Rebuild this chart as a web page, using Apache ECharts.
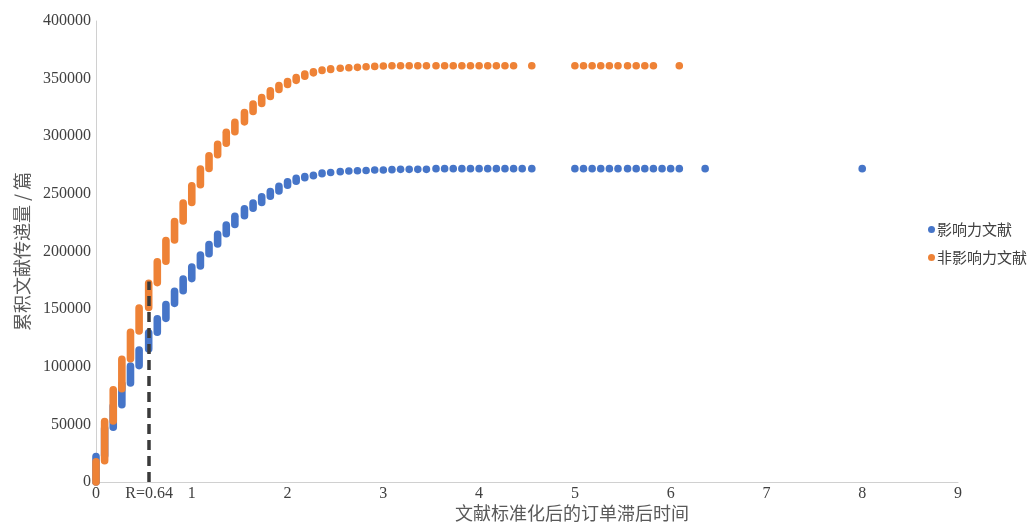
<!DOCTYPE html>
<html>
<head>
<meta charset="utf-8">
<script src="https://cdn.jsdelivr.net/npm/echarts@6/dist/echarts.min.js"></script>
<style>
html,body{margin:0;padding:0;background:#fff;}
#main{width:1030px;height:525px;}
</style>
</head>
<body>
<div id="main"></div>
<script>
// ---- data ----
const seriesNames = ['影响力文献', '非影响力文献'];
const xAxisName = '文献标准化后的订单滞后时间';
const yAxisName = '累积文献传递量 / 篇';
const markX = 0.555;
const markTop = 174000;
const markLabel = 'R=0.64';

// 影响力文献 (blue): x, lowest and highest cumulative value at that x
const blueX = [0,0.09,0.18,0.27,0.36,0.45,0.55,0.64,0.73,0.82,0.91,1.00,1.09,1.18,1.27,1.36,1.45,1.55,1.64,1.73,1.82,1.91,2.00,2.09,2.18,2.27,2.36,2.45,2.55,2.64,2.73,2.82,2.91,3.00,3.09,3.18,3.27,3.36,3.45,3.55,3.64,3.73,3.82,3.91,4.00,4.09,4.18,4.27,4.36,4.45,4.55,5.00,5.09,5.18,5.27,5.36,5.45,5.55,5.64,5.73,5.82,5.91,6.00,6.09,6.36,8.00];
const blueLow = [0,23000,47500,67000,86000,101000,115500,130000,142000,155000,166000,176500,187500,198000,206500,215500,223500,231000,237500,242500,248000,252500,257500,261000,264000,265800,267500,268500,269300,269800,270100,270300,270700,270700,271000,271300,271300,271300,271300,271900,271900,271900,271900,271900,271900,271900,271900,271900,271900,271900,271900,271900,271900,271900,271900,271900,271900,271900,271900,271900,271900,271900,271900,271900,271900,271900];
const blueHigh = [22000,46500,66000,85000,100500,114500,129500,141500,154000,165500,176000,186500,197000,206000,215000,223000,230500,237000,242000,247500,252000,256500,260500,263500,265000,266200,268000,268500,269300,269800,270100,270300,270700,270700,271000,271300,271300,271300,271300,271900,271900,271900,271900,271900,271900,271900,271900,271900,271900,271900,271900,271900,271900,271900,271900,271900,271900,271900,271900,271900,271900,271900,271900,271900,271900,271900];

// 非影响力文献 (orange)
const orangeX = [0,0.09,0.18,0.27,0.36,0.45,0.55,0.64,0.73,0.82,0.91,1.00,1.09,1.18,1.27,1.36,1.45,1.55,1.64,1.73,1.82,1.91,2.00,2.09,2.18,2.27,2.36,2.45,2.55,2.64,2.73,2.82,2.91,3.00,3.09,3.18,3.27,3.36,3.45,3.55,3.64,3.73,3.82,3.91,4.00,4.09,4.18,4.27,4.36,4.55,5.00,5.09,5.18,5.27,5.36,5.45,5.55,5.64,5.73,5.82,6.09];
const orangeLow = [0,18500,53000,81000,107000,131000,151500,173000,191500,210000,226500,242500,258000,272000,284000,294000,304000,312500,321500,328500,334500,340500,345000,348500,352000,355000,357000,358000,359000,359500,359800,360300,360600,361000,361200,361200,361200,361200,361200,361200,361200,361200,361200,361200,361200,361200,361200,361200,361200,361200,361200,361200,361200,361200,361200,361200,361200,361200,361200,361200,361200];
const orangeHigh = [17500,52500,80000,106500,130000,151000,172500,191000,209500,226000,242000,257000,271500,283000,293000,303500,312000,320500,328000,333500,339500,344000,347500,351000,354000,356000,357500,358500,359000,359500,359800,360300,360600,361000,361200,361200,361200,361200,361200,361200,361200,361200,361200,361200,361200,361200,361200,361200,361200,361200,361200,361200,361200,361200,361200,361200,361200,361200,361200,361200,361200];

const blueColor = '#4675C8';
const orangeColor = '#EE8236';

function rows(xs, lo, hi) { return xs.map((x, i) => [x, lo[i], hi[i]]); }

const R = 3.8;
function renderColumn(params, api) {
  const x = api.value(0), lo = api.value(1), hi = api.value(2);
  const pHi = api.coord([x, hi]);
  const pLo = api.coord([x, lo]);
  return {
    type: 'rect',
    shape: { x: pHi[0] - R, y: pHi[1] - R, width: 2 * R, height: pLo[1] - pHi[1] + 2 * R, r: R },
    style: { fill: api.visual('color') }
  };
}

const chart = echarts.init(document.getElementById('main'), null, { renderer: 'canvas' });
const numFont = '"Liberation Serif", "Times New Roman", serif';
const cjkFont = '"Noto Sans CJK SC", sans-serif';

chart.setOption({
  animation: false,
  backgroundColor: '#ffffff',
  grid: { left: 96, right: 72, top: 21, bottom: 43, containLabel: false },
  legend: {
    orient: 'vertical',
    left: 923,
    top: 217,
    itemWidth: 7,
    itemHeight: 7,
    itemGap: 13,
    data: [
      { name: seriesNames[0], icon: 'circle' },
      { name: seriesNames[1], icon: 'circle' }
    ],
    textStyle: { fontFamily: cjkFont, fontSize: 15, color: '#404040', padding: [0, 0, 0, -3] }
  },
  xAxis: {
    type: 'value',
    min: 0, max: 9, interval: 1,
    splitLine: { show: false },
    axisTick: { show: false },
    axisLine: { show: true, lineStyle: { color: '#d0d0d0', width: 1 } },
    axisLabel: { fontFamily: numFont, fontSize: 16, color: '#404040', margin: 4 }
  },
  yAxis: {
    type: 'value',
    min: 0, max: 400000, interval: 50000,
    name: yAxisName,
    nameLocation: 'middle',
    nameGap: 65,
    nameRotate: 90,
    nameTextStyle: { fontFamily: cjkFont, fontSize: 18, color: '#595959' },
    splitLine: { show: false },
    axisTick: { show: false },
    axisLine: { show: true, lineStyle: { color: '#d0d0d0', width: 1 } },
    axisLabel: { fontFamily: numFont, fontSize: 16, color: '#404040', margin: 5, formatter: v => String(v) }
  },
  graphic: [{
    type: 'text',
    left: 455,
    top: 504,
    style: { text: xAxisName, font: '18px ' + cjkFont, fill: '#595959' }
  }],
  series: [
    {
      name: seriesNames[0],
      type: 'custom',
      renderItem: renderColumn,
      clip: false,
      itemStyle: { color: blueColor },
      encode: { x: 0, y: [1, 2] },
      data: rows(blueX, blueLow, blueHigh),
      z: 2
    },
    {
      name: seriesNames[1],
      type: 'custom',
      renderItem: renderColumn,
      clip: false,
      itemStyle: { color: orangeColor },
      encode: { x: 0, y: [1, 2] },
      data: rows(orangeX, orangeLow, orangeHigh),
      z: 3
    },
    {
      name: 'R',
      type: 'line',
      data: [],
      z: 10,
      markLine: {
        silent: true,
        symbol: ['none', 'none'],
        lineStyle: { color: '#3a3a3a', width: 3.5, type: [10, 6] },
        label: {
          show: true,
          position: 'start',
          distance: 4,
          formatter: markLabel,
          fontFamily: numFont,
          fontSize: 16,
          color: '#404040'
        },
        data: [[{ coord: [markX, 0] }, { coord: [markX, markTop] }]]
      }
    }
  ]
});
</script>
</body>
</html>
